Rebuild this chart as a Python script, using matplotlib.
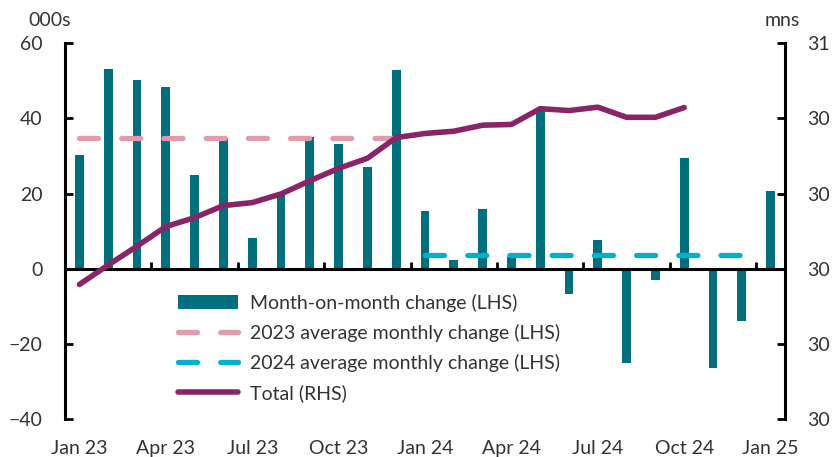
import numpy as np
import matplotlib
matplotlib.use("Agg")
import matplotlib.pyplot as plt
from matplotlib.patches import Patch
from matplotlib.lines import Line2D

plt.rcParams['font.family'] = ['Lato', 'DejaVu Sans']

# ---- data ----
months = ['Jan 23', 'Feb 23', 'Mar 23', 'Apr 23', 'May 23', 'Jun 23', 'Jul 23', 'Aug 23',
          'Sep 23', 'Oct 23', 'Nov 23', 'Dec 23', 'Jan 24', 'Feb 24', 'Mar 24', 'Apr 24',
          'May 24', 'Jun 24', 'Jul 24', 'Aug 24', 'Sep 24', 'Oct 24', 'Nov 24', 'Dec 24',
          'Jan 25']
mom_change = [30.4, 53.1, 50.1, 48.5, 24.9, 34.7, 8.1, 19.5, 35.0, 33.2, 27.1, 52.8,
              15.4, 2.2, 15.8, 3.0, 42.0, -6.6, 7.6, -25.1, -3.0, 29.5, -26.3, -14.0,
              20.7]
avg_2023 = 34.9
avg_2024 = 3.6
total_mns = [29.958, 30.010, 30.060, 30.112, 30.136, 30.168, 30.176, 30.199, 30.234,
             30.267, 30.294, 30.349, 30.360, 30.366, 30.382, 30.384, 30.426, 30.421,
             30.430, 30.403, 30.403, 30.429]
tick_labels = ['Jan 23', 'Apr 23', 'Jul 23', 'Oct 23', 'Jan 24', 'Apr 24', 'Jul 24',
               'Oct 24', 'Jan 25']
left_ticks = [-40, -20, 0, 20, 40, 60]
right_ticks = [29.6, 29.8, 30.0, 30.2, 30.4, 30.6]

# ---- style ----
BAR = '#006F7E'
PINK = '#E39AAB'
CYAN = '#00B2C9'
PURPLE = '#8A2468'
TXT = '#333333'
FS = 14

W, H = 832, 457
fig = plt.figure(figsize=(W / 100, H / 100), dpi=100)
left_px, right_px, top_px, bot_px = 65, 785, 43.3, 419
ax = fig.add_axes([left_px / W, 1 - bot_px / H, (right_px - left_px) / W, (bot_px - top_px) / H])

x = np.arange(len(months))
ax.bar(x, mom_change, width=0.3, color=BAR, zorder=2)

dash = (3.6, 4.4)
lw_d = 3.8
x23 = x[:12]
x24 = x[12:24]
ax.plot(x23, [avg_2023] * len(x23), color=PINK, lw=lw_d, dashes=dash,
        dash_capstyle='round', zorder=3)
ax.plot(x24, [avg_2024] * len(x24), color=CYAN, lw=lw_d, dashes=dash,
        dash_capstyle='round', zorder=3)

ax.set_xlim(-0.5, len(months) - 0.5)
ax.set_ylim(-40, 60)

# zero line as bottom spine, with boundary ticks pointing up
for s in ['top', 'right']:
    ax.spines[s].set_visible(False)
ax.spines['bottom'].set_position(('data', 0))
ax.spines['bottom'].set_linewidth(2.2)
ax.spines['left'].set_linewidth(2.2)
ax.set_xticks(np.arange(-0.5, len(months), 3))
ax.tick_params(axis='x', direction='in', length=5, width=2, labelbottom=False)
ax.set_yticks(left_ticks)
ax.tick_params(axis='y', direction='in', length=6, width=2, pad=16,
               labelsize=FS, labelcolor=TXT)

sec = ax.secondary_xaxis('bottom')
sec.set_xticks(np.arange(0, len(months), 3))
sec.set_xticklabels(tick_labels)
sec.spines['bottom'].set_visible(False)
sec.tick_params(axis='x', length=0, pad=15, labelsize=FS, labelcolor=TXT)

ax2 = ax.twinx()
xt = x[:len(total_mns)]
ax2.plot(xt, total_mns, color=PURPLE, lw=4, solid_capstyle='round', zorder=5)
ax2.set_ylim(29.6, 30.6)
ax2.set_yticks(right_ticks)
ax2.set_yticklabels([f'{v:.0f}' for v in right_ticks])
for s in ['top', 'left', 'bottom']:
    ax2.spines[s].set_visible(False)
ax2.spines['right'].set_linewidth(2.2)
ax2.tick_params(axis='y', direction='in', length=6, width=2, pad=16,
                labelsize=FS, labelcolor=TXT)

fig.text(28 / W, 1 - 20 / H, '000s', fontsize=FS, color=TXT, va='center', ha='left')
fig.text(765 / W, 1 - 20 / H, 'mns', fontsize=FS, color=TXT, va='center', ha='left')

handles = [
    Patch(facecolor=BAR, edgecolor='none'),
    Line2D([], [], color=PINK, lw=lw_d, dashes=dash, dash_capstyle='round'),
    Line2D([], [], color=CYAN, lw=lw_d, dashes=dash, dash_capstyle='round'),
    Line2D([], [], color=PURPLE, lw=4, solid_capstyle='round'),
]
labels = ['Month-on-month change (LHS)', '2023 average monthly change (LHS)',
          '2024 average monthly change (LHS)', 'Total (RHS)']
leg = ax2.legend(handles, labels, loc='upper left',
                 bbox_to_anchor=(178 / W, 1 - 294 / H), bbox_transform=fig.transFigure,
                 frameon=False, fontsize=FS, handlelength=3.1, handletextpad=0.6,
                 labelspacing=0.62, borderpad=0, borderaxespad=0)
for t in leg.get_texts():
    t.set_color(TXT)

fig.savefig('out.png', dpi=100)
